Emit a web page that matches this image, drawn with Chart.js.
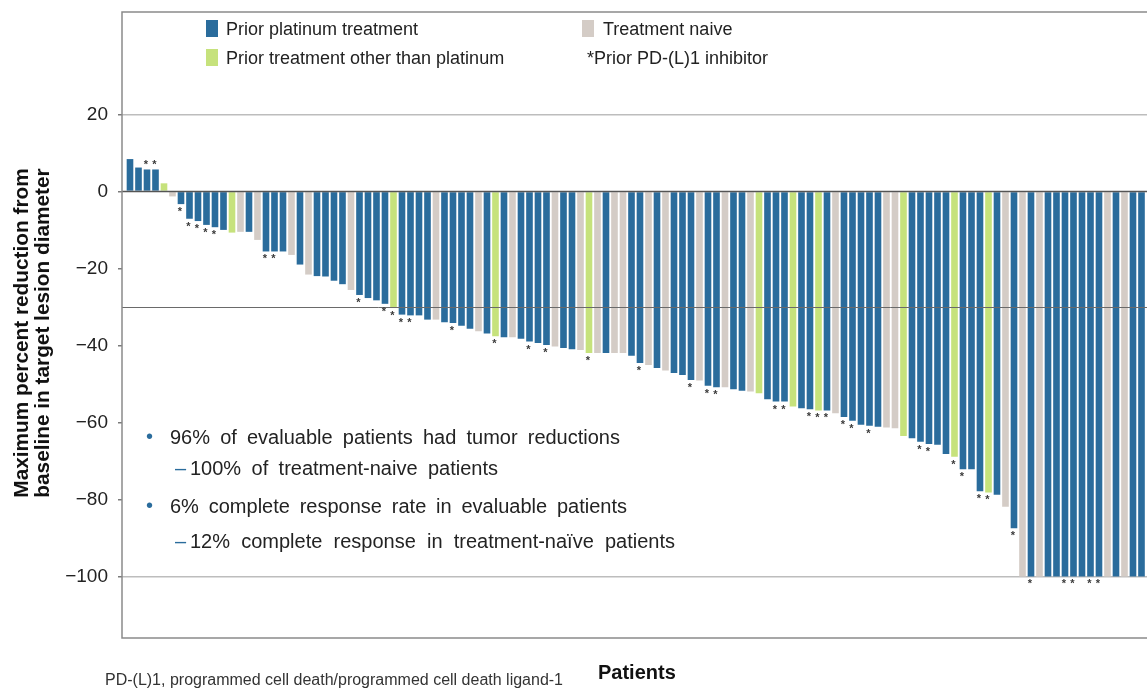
<!DOCTYPE html>
<html lang="en">
<head>
<meta charset="utf-8">
<title>Maximum percent reduction in target lesion diameter</title>
<script src="https://cdn.jsdelivr.net/npm/chart.js@4.4.1/dist/chart.umd.min.js"></script>
<style>
  html, body { margin: 0; padding: 0; background: #ffffff; overflow: hidden; }
  #stage { position: relative; width: 1147px; height: 689px; font-family: "Liberation Sans", Arial, sans-serif; color: #1f1f1f; }
  #chart { position: absolute; left: 0; top: 0; }
  .lbl { position: absolute; white-space: pre; line-height: 1; }
  .sw { position: absolute; width: 12px; height: 17px; }
  .note { position: absolute; font-size: 20px; line-height: 1; color: #232323; white-space: nowrap;
          text-align: justify; text-align-last: justify; }
  .mark { position: absolute; font-size: 20px; line-height: 1; color: #2a6c9c; }
  #ytitle { position: absolute; left: -169.5px; top: 312px; width: 400px; height: 42px; text-align: center;
            font-weight: bold; font-size: 20.8px; line-height: 21px; color: #111; transform: rotate(-90deg); white-space: pre; }
</style>
</head>
<body>
<div id="stage">
  <canvas id="chart" width="1147" height="689"></canvas>
  <div id="legend"></div>
  <div id="ytitle">Maximum percent reduction from
baseline in target lesion diameter</div>
  <div class="lbl" style="left:598px; top:662px; font-weight:bold; font-size:20px; color:#111;">Patients</div>
  <div class="lbl" style="left:105px; top:672px; font-size:16px; color:#333;">PD-(L)1, programmed cell death/programmed cell death ligand-1</div>

  <div class="mark" style="left:146px; top:426px;">•</div>
  <div class="note" style="left:170px; top:427px; width:450px;">96% of evaluable patients had tumor reductions</div>
  <div class="mark" style="left:175px; top:458px;">–</div>
  <div class="note" style="left:190px; top:458px; width:308px;">100% of treatment-naive patients</div>
  <div class="mark" style="left:146px; top:495px;">•</div>
  <div class="note" style="left:170px; top:496px; width:457px;">6% complete response rate in evaluable patients</div>
  <div class="mark" style="left:175px; top:531px;">–</div>
  <div class="note" style="left:190px; top:531px; width:485px;">12% complete response in treatment-naïve patients</div>
</div>

<script>
// Prior therapy group of each patient, in waterfall order:
// P = prior platinum treatment, O = prior treatment other than platinum, N = treatment naive
const groups = [
  'P','P','P','P','O','N','P','P','P','P',
  'P','P','O','N','P','N','P','P','P','N',
  'P','N','P','P','P','P','N','P','P','P',
  'P','O','P','P','P','P','N','P','P','P',
  'P','N','P','O','P','N','P','P','P','P',
  'N','P','P','N','O','N','P','N','N','P',
  'P','N','P','N','P','P','P','N','P','P',
  'N','P','P','N','O','P','P','P','O','P',
  'P','O','P','N','P','P','P','P','P','N',
  'N','O','P','P','P','P','P','O','P','P',
  'P','O','P','N','P','N','P','N','P','P',
  'P','P','P','P','P','N','P','N','P','P'
];

// Maximum percent change from baseline in target lesion diameter
const bestChange = [
    8.4,   6.2,   5.7,   5.7,   2.1,  -1.3,  -3.3,  -7.1,  -7.7,  -8.7,
   -9.3, -10.0, -10.7, -10.5, -10.5, -12.6, -15.6, -15.6, -15.6, -16.5,
  -19.0, -21.6, -22.0, -22.1, -23.2, -24.1, -25.6, -26.9, -27.7, -28.3,
  -29.2, -30.3, -32.0, -32.2, -32.2, -33.3, -33.3, -34.0, -34.2, -34.9,
  -35.7, -36.3, -36.9, -37.6, -37.9, -37.9, -38.3, -39.0, -39.4, -39.9,
  -40.3, -40.7, -41.0, -41.2, -42.0, -42.0, -42.0, -42.0, -42.0, -42.7,
  -44.6, -45.1, -45.9, -46.5, -47.2, -47.7, -49.0, -49.1, -50.5, -50.9,
  -50.9, -51.4, -51.8, -52.0, -52.4, -54.0, -54.6, -54.6, -55.9, -56.3,
  -56.6, -56.9, -56.9, -57.6, -58.6, -59.6, -60.6, -60.9, -61.1, -61.3,
  -61.5, -63.5, -64.1, -65.0, -65.6, -65.8, -68.2, -68.9, -72.2, -72.2,
  -77.9, -78.2, -78.8, -81.9, -87.5, -100,  -100,  -100,  -100,  -100,
  -100,  -100,  -100,  -100,  -100,  -100,  -100,  -100,  -100,  -100
];

// Patients (1-based position) who had a prior PD-(L)1 inhibitor
const priorPDL1 = [3, 4, 7, 8, 9, 10, 11, 17, 18, 28, 31, 32, 33, 34, 39, 44, 48, 50, 55, 61,
                   67, 69, 70, 77, 78, 81, 82, 83, 85, 86, 88, 94, 95, 98, 99, 101, 102, 105,
                   107, 111, 112, 114, 115];

const yTickValues = [20, 0, -20, -40, -60, -80, -100];
const responseThreshold = -30;

const groupOrder = ['P', 'N', 'O'];
const groupNames = {
  P: 'Prior platinum treatment',
  N: 'Treatment naive',
  O: 'Prior treatment other than platinum'
};
const groupColors = { P: '#2a6c9c', N: '#d4ccc6', O: '#c6e27c' };

// ----- legend (2 x 2 grid inside the plot frame) -----
const legendSlots = {
  P: { sx: 206, tx: 226, y: 20 },
  N: { sx: 582, tx: 603, y: 20 },
  O: { sx: 206, tx: 226, y: 49 }
};
const legend = document.getElementById('legend');
groupOrder.forEach(g => {
  const s = legendSlots[g];
  const sw = document.createElement('div');
  sw.className = 'sw';
  sw.style.cssText = `left:${s.sx}px; top:${s.y}px; background:${groupColors[g]};`;
  legend.appendChild(sw);
  const t = document.createElement('div');
  t.className = 'lbl';
  t.style.cssText = `left:${s.tx}px; top:${s.y}px; font-size:18px; color:#222;`;
  t.textContent = groupNames[g];
  legend.appendChild(t);
});
const pdNote = document.createElement('div');
pdNote.className = 'lbl';
pdNote.style.cssText = 'left:587px; top:49px; font-size:18px; color:#222;';
pdNote.textContent = '*Prior PD-(L)1 inhibitor';
legend.appendChild(pdNote);

// ----- chart -----
const points = bestChange.map((v, i) => ({ x: i + 1, y: v }));
const barColors = groups.map(g => groupColors[g]);
const flagged = new Set(priorPDL1);

const frameAndMarks = {
  id: 'frameAndMarks',
  afterDatasetsDraw(chart) {
    const { ctx, chartArea: a, scales: { y } } = chart;
    ctx.save();
    // zero line and -30% response line over the bars
    ctx.strokeStyle = '#555555';
    ctx.lineWidth = 1.5;
    let py = Math.round(y.getPixelForValue(0)) + 0.5;
    ctx.beginPath(); ctx.moveTo(a.left, py); ctx.lineTo(a.right, py); ctx.stroke();
    ctx.strokeStyle = '#6a6a6a';
    ctx.lineWidth = 1;
    py = Math.round(y.getPixelForValue(responseThreshold)) + 0.5;
    ctx.beginPath(); ctx.moveTo(a.left, py); ctx.lineTo(a.right, py); ctx.stroke();

    // plot frame (left, top, bottom)
    ctx.strokeStyle = '#8a8a8a';
    ctx.lineWidth = 1.5;
    ctx.beginPath();
    ctx.moveTo(a.right, a.top); ctx.lineTo(a.left, a.top);
    ctx.lineTo(a.left, a.bottom); ctx.lineTo(a.right, a.bottom);
    ctx.stroke();

    // asterisks for prior PD-(L)1 inhibitor
    const meta = chart.getDatasetMeta(0);
    ctx.fillStyle = '#3a3a3a';
    ctx.font = 'bold 11px "Liberation Sans", Arial, sans-serif';
    ctx.textAlign = 'center';
    ctx.textBaseline = 'alphabetic';
    meta.data.forEach((bar, i) => {
      if (!flagged.has(i + 1)) return;
      const v = bestChange[i];
      const yy = v >= 0 ? bar.y - 1 : bar.y + 11;
      ctx.fillText('*', bar.x - 1, yy);
    });
    ctx.restore();
  }
};

new Chart(document.getElementById('chart'), {
  type: 'bar',
  data: {
    datasets: [{
      data: points,
      backgroundColor: barColors,
      borderWidth: 0,
      categoryPercentage: 1,
      barPercentage: 0.78
    }]
  },
  options: {
    responsive: false,
    animation: false,
    events: [],
    layout: { padding: { left: 0, right: 0, top: 12, bottom: 51 } },
    plugins: { legend: { display: false }, tooltip: { enabled: false } },
    scales: {
      x: {
        type: 'linear',
        display: false,
        offset: false,
        min: 0.06,
        max: 0.06 + 1025 / 8.5,
        afterBuildTicks: s => { s.ticks = bestChange.map((v, i) => ({ value: i + 1 })); }
      },
      y: {
        min: -116,
        max: 46.6,
        afterBuildTicks: s => { s.ticks = yTickValues.map(v => ({ value: v })); },
        afterFit: s => { s.width = 122; s.paddingTop = 0; s.paddingBottom = 0; },
        border: { display: false },
        grid: {
          color: c => (c.tick && (c.tick.value === 20 || c.tick.value === -100)) ? '#bdbdbd' : 'rgba(0,0,0,0)',
          lineWidth: 1.5,
          drawTicks: true,
          tickLength: 4,
          tickColor: '#7a7a7a'
        },
        ticks: {
          padding: 10,
          color: '#222222',
          font: { family: '"Liberation Sans", Arial, sans-serif', size: 19 },
          callback: v => (v < 0 ? '\u2212' + Math.abs(v) : String(v))
        }
      }
    }
  },
  plugins: [frameAndMarks]
});
</script>
</body>
</html>
